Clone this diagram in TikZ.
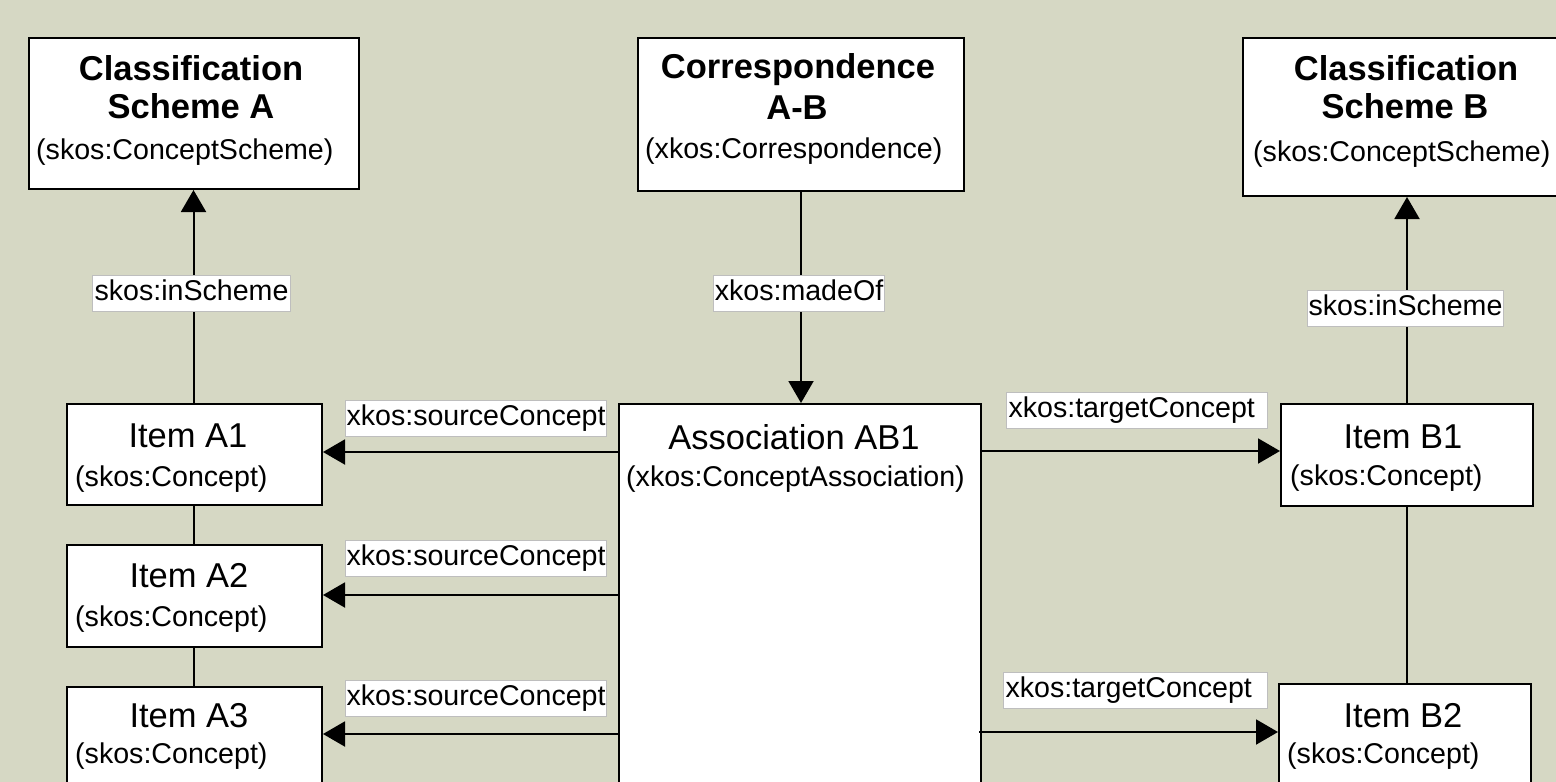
\documentclass[tikz,border=0pt]{standalone}
\usepackage{fontspec}
\setmainfont{Liberation Sans}
\usetikzlibrary{arrows.meta}
\definecolor{bgc}{RGB}{214,216,196}
\definecolor{lblborder}{RGB}{190,190,190}
\newcommand\mysub{\fontsize{28.6pt}{34pt}\selectfont}
\newcommand\mytitle{\fontsize{34.5pt}{40pt}\selectfont}
\newcommand\mybold{\fontsize{34.5pt}{40pt}\selectfont\bfseries}
\begin{document}
\begin{tikzpicture}[x=1pt,y=-1pt,
  box/.style={draw=black,fill=white,line width=2pt,anchor=north west,inner sep=0pt},
  ttl/.style={anchor=base,inner sep=0pt,font=\mytitle},
  btl/.style={anchor=base,inner sep=0pt,font=\mybold},
  sub/.style={anchor=base west,inner sep=0pt,font=\mysub},
  lbl/.style={draw=lblborder,fill=white,line width=1pt,anchor=west,inner xsep=1pt,inner ysep=0pt,
     minimum height=36pt,text height=21pt,text depth=6pt,font=\mysub,align=left},
  conn/.style={draw=black,line width=2pt},
  arr/.style={conn,-{Triangle[length=22pt,width=25pt]}}]
\path[use as bounding box,fill=bgc] (0,0) rectangle (1556,782);
\clip (0,0) rectangle (1556,782);

% boxes
\node[box,minimum width=330pt,minimum height=151pt] (SA) at (28,37) {};
\node[box,minimum width=326pt,minimum height=153pt] (C) at (637,37) {};
\node[box,minimum width=380pt,minimum height=158pt] (SB) at (1242,37) {};
\node[box,minimum width=255pt,minimum height=101pt] (A1) at (66,403) {};
\node[box,minimum width=255pt,minimum height=102pt] (A2) at (66,544) {};
\node[box,minimum width=255pt,minimum height=140pt] (A3) at (66,686) {};
\node[box,minimum width=362pt,minimum height=420pt] (AB) at (618,403) {};
\node[box,minimum width=252pt,minimum height=102pt] (B1) at (1280,403) {};
\node[box,minimum width=252pt,minimum height=140pt] (B2) at (1278,683) {};

% texts
\node[btl] (saT1) at (191,80) {Classification};
\node[btl] (saT2) at (191,118) {Scheme A};
\node[sub] (saS) at (36,159) {(skos:ConceptScheme)};
\node[btl] (cT1) at (798,78) {Correspondence};
\node[btl] (cT2) at (797,119) {A-B};
\node[sub] (cS) at (645,158) {(xkos:Correspondence)};
\node[btl] (sbT1) at (1406,80) {Classification};
\node[btl] (sbT2) at (1405,118) {Scheme B};
\node[sub] (sbS) at (1253,161) {(skos:ConceptScheme)};
\node[ttl] (abT) at (794,449) {Association AB1};
\node[sub] (abS) at (626,486) {(xkos:ConceptAssociation)};
\node[ttl] (a1T) at (188,447) {Item A1};
\node[sub] (a1S) at (75,486) {(skos:Concept)};
\node[ttl] (a2T) at (189,587) {Item A2};
\node[sub] (a2S) at (75,626) {(skos:Concept)};
\node[ttl] (a3T) at (189,727) {Item A3};
\node[sub] (a3S) at (75,763) {(skos:Concept)};
\node[ttl] (b1T) at (1403,448) {Item B1};
\node[sub] (b1S) at (1290,485) {(skos:Concept)};
\node[ttl] (b2T) at (1403,727) {Item B2};
\node[sub] (b2S) at (1287,763) {(skos:Concept)};

% anchor points for horizontal connectors
\coordinate (pA1) at ([yshift=-49pt]A1.north east);
\coordinate (pA2) at ([yshift=-51pt]A2.north east);
\coordinate (pA3) at ([yshift=-48pt]A3.north east);
\coordinate (pB1) at ([yshift=-48pt]B1.north west);
\coordinate (pB2) at ([yshift=-49pt]B2.north west);

% connectors
\draw[arr] ([xshift=-1pt]A1.north) -- ([xshift=-1pt]A1.north |- SA.south);
\draw[conn] ([xshift=-1pt]A1.south) -- ([xshift=-1pt]A1.south |- A2.north);
\draw[conn] ([xshift=-1pt]A2.south) -- ([xshift=-1pt]A2.south |- A3.north);
\draw[arr] (C.south) -- (C.south |- AB.north);
\draw[arr] (B1.north) -- (B1.north |- SB.south);
\draw[conn] (B1.south) -- (B1.south |- B2.north);
\draw[arr] (AB.west |- pA1) -- (pA1);
\draw[arr] (AB.west |- pA2) -- (pA2);
\draw[arr] (AB.west |- pA3) -- (pA3);
\draw[arr] (AB.east |- pB1) -- (pB1);
\draw[arr] ([xshift=-3pt]AB.east |- pB2) -- (pB2);

% labels
\node[lbl,minimum width=198pt] (lInA) at (92,293) {skos:inScheme};
\node[lbl,minimum width=171pt] (lMade) at (713,293) {xkos:madeOf};
\node[lbl,minimum width=196pt] (lInB) at (1307,308) {skos:inScheme};
\node[lbl,minimum width=260pt] (lS1) at (345,418) {xkos:sourceConcept};
\node[lbl,minimum width=260pt] (lS2) at (345,558) {xkos:sourceConcept};
\node[lbl,minimum width=260pt] (lS3) at (345,698) {xkos:sourceConcept};
\node[lbl,minimum width=261pt,text width=257pt] (lT1) at (1006,410) {xkos:targetConcept};
\node[lbl,minimum width=264pt,text width=260pt] (lT2) at (1003,690) {xkos:targetConcept};
\end{tikzpicture}
\end{document}
